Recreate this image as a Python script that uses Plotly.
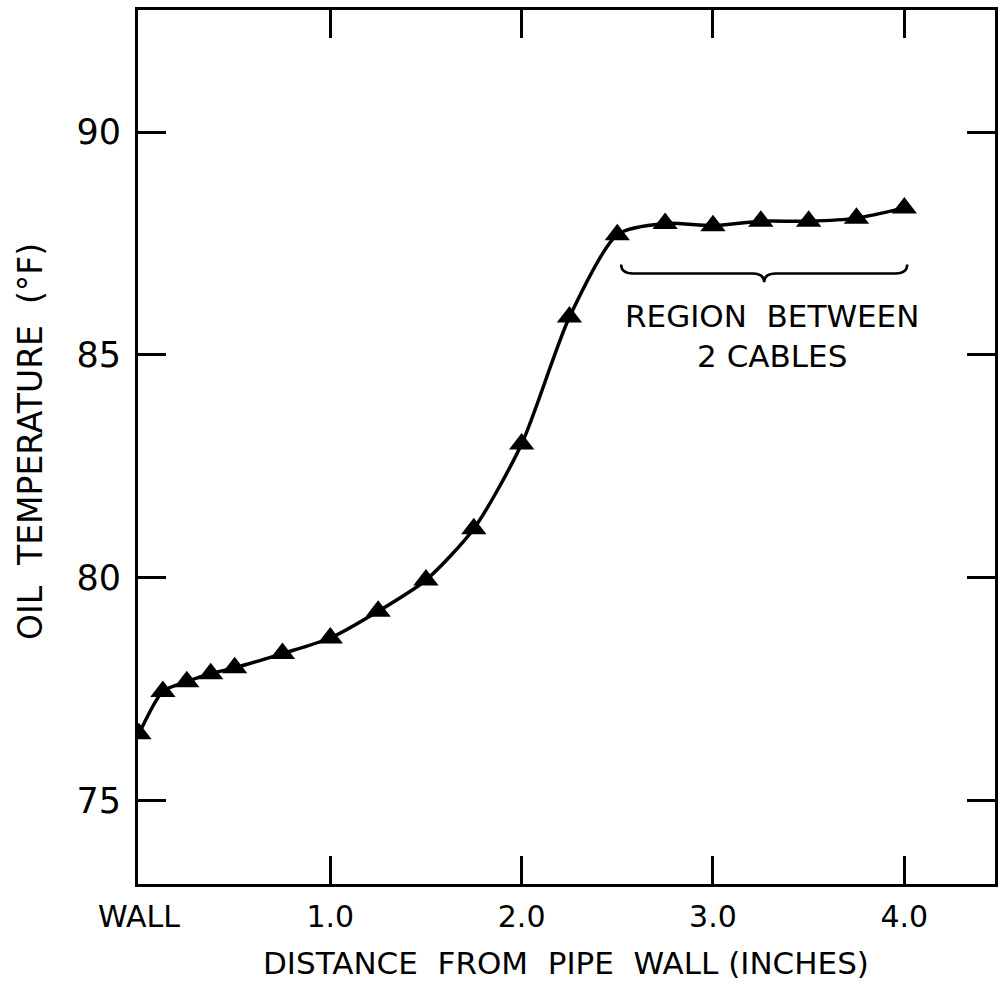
import plotly.graph_objects as go

# Data
distance_in = [0.0, 0.125, 0.25, 0.375, 0.5, 0.75, 1.0, 1.25, 1.5, 1.75, 2.0, 2.25, 2.5, 2.75, 3.0, 3.25, 3.5, 3.75, 4.0]
oil_temp_f = [76.5, 77.45, 77.67, 77.85, 77.98, 78.3, 78.65, 79.25, 79.95, 81.1, 83.0, 85.85, 87.7, 87.95, 87.9, 88.0, 88.0, 88.07, 88.3]

x_tickvals = [0, 1, 2, 3, 4]
x_ticktext = ["WALL", "1.0", "2.0", "3.0", "4.0"]
y_tickvals = [75, 80, 85, 90]
y_ticktext = ["75", "80", "85", "90"]

region_start, region_end = 2.52, 4.015
brace_top, brace_mid, brace_tip = 87.03, 86.83, 86.63

FONT = "DejaVu Sans"

fig = go.Figure()
fig.add_trace(go.Scatter(
    x=distance_in, y=oil_temp_f, mode="lines+markers",
    line=dict(color="black", width=3.5, shape="spline", smoothing=0.7),
    marker=dict(symbol="triangle-up", size=22, color="black"),
    showlegend=False, hoverinfo="x+y",
))

# Brace marking the region between two cables
xm = (region_start + region_end) / 2
dx = 0.06
path = (f"M {region_start},{brace_top} Q {region_start},{brace_mid} {region_start+dx},{brace_mid} "
        f"L {xm-dx},{brace_mid} Q {xm},{brace_mid} {xm},{brace_tip} "
        f"Q {xm},{brace_mid} {xm+dx},{brace_mid} "
        f"L {region_end-dx},{brace_mid} Q {region_end},{brace_mid} {region_end},{brace_top}")
fig.add_shape(type="path", path=path, xref="x", yref="y",
              line=dict(color="black", width=2.5))

fig.add_annotation(x=3.31, y=85.43, xref="x", yref="y",
                   text="REGION  BETWEEN<br>2 CABLES", showarrow=False,
                   font=dict(family=FONT, size=31, color="black"), align="center")

fig.add_annotation(x=-0.126, y=0.5057, xref="paper", yref="paper",
                   xanchor="center", yanchor="middle",
                   text="OIL  TEMPERATURE  (°F)", textangle=-90, showarrow=False,
                   font=dict(family=FONT, size=33, color="black"))
fig.add_annotation(x=0.499, y=-0.0904, xref="paper", yref="paper",
                   xanchor="center", yanchor="middle",
                   text="DISTANCE  FROM  PIPE  WALL (INCHES)", showarrow=False,
                   font=dict(family=FONT, size=31, color="black"))

fig.update_xaxes(range=[-0.005, 4.474], tickvals=x_tickvals, ticktext=x_ticktext,
                 ticks="inside", ticklen=28, tickwidth=2.5, tickcolor="black",
                 showline=True, linewidth=3, linecolor="black", mirror="ticks",
                 showgrid=False, zeroline=False, ticklabelstandoff=4,
                 tickfont=dict(family=FONT, size=30, color="black"))
fig.update_yaxes(range=[73.13, 92.74], tickvals=y_tickvals, ticktext=y_ticktext,
                 ticks="inside", ticklen=28, tickwidth=2.5, tickcolor="black",
                 showline=True, linewidth=3, linecolor="black", mirror="ticks",
                 showgrid=False, zeroline=False, ticklabelstandoff=7,
                 tickfont=dict(family=FONT, size=35, color="black"))

fig.update_layout(width=1000, height=985, margin=dict(l=138, r=2, t=10, b=101),
                  paper_bgcolor="white", plot_bgcolor="white")

fig.write_html("out.html")
